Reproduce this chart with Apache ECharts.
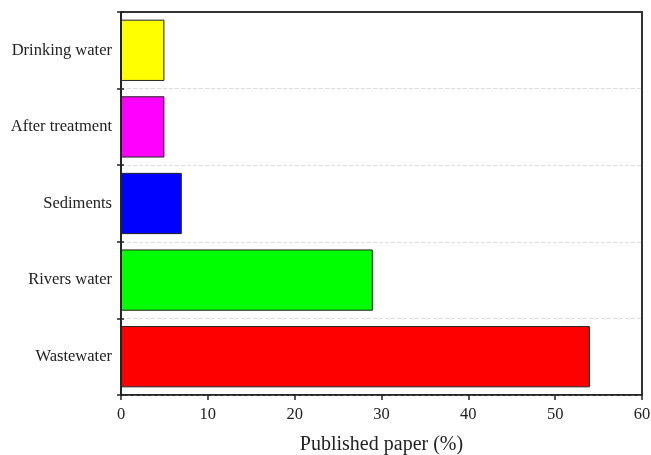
<!DOCTYPE html>
<html><head><meta charset="utf-8">
<script src="https://cdn.jsdelivr.net/npm/echarts@6/dist/echarts.min.js"></script>
<style>html,body{margin:0;padding:0;background:#fff}#c{width:651px;height:455px}</style>
</head><body><div id="c"></div>
<script>
const categories = ['Wastewater', 'Rivers water', 'Sediments', 'After treatment', 'Drinking water'];
const values = [54, 29, 7, 5, 5];
const barColors = ['#ff0000', '#00ff00', '#0000ff', '#ff00ff', '#ffff00'];
const xTicks = [0, 10, 20, 30, 40, 50, 60];

const chart = echarts.init(document.getElementById('c'));
const font = 'Liberation Serif, Times New Roman, serif';
const lineCol = '#222';
chart.setOption({
  backgroundColor: '#fff',
  animation: false,
  grid: {left: 121, right: 9, top: 12, bottom: 60, outerBoundsMode: 'none', containLabel: false,
         show: true, borderColor: '#333', borderWidth: 2, backgroundColor: 'transparent'},
  xAxis: [{
    type: 'value', min: xTicks[0], max: xTicks[xTicks.length - 1], interval: 10,
    name: 'Published paper (%)', nameLocation: 'middle', nameGap: 40,
    nameTextStyle: {fontFamily: font, fontSize: 20, color: lineCol},
    axisLine: {show: true, lineStyle: {color: lineCol, width: 1.5}},
    axisTick: {show: true, length: 5, lineStyle: {color: lineCol, width: 1.5}},
    axisLabel: {fontFamily: font, fontSize: 16.5, color: lineCol, margin: 11},
    splitLine: {show: false}
  }, {
    type: 'value', position: 'top', min: 0, max: 60, interval: 10,
    axisLine: {show: true, lineStyle: {color: '#333', width: 2}},
    axisTick: {show: false}, axisLabel: {show: false}, splitLine: {show: false}
  }],
  yAxis: [{
    type: 'category', data: categories, position: 'left',
    axisLine: {show: true, lineStyle: {color: lineCol, width: 1.5}},
    axisTick: {show: true, length: 4, lineStyle: {color: lineCol, width: 1.5}},
    axisLabel: {fontFamily: font, fontSize: 16.5, color: lineCol, margin: 9},
    splitLine: {show: true, lineStyle: {color: '#ddd', type: 'dashed', width: 1}}
  }, {
    type: 'category', data: categories, position: 'left', offset: 0,
    axisLine: {show: false},
    axisTick: {show: true, inside: true, length: 3, lineStyle: {color: lineCol, width: 1.5}},
    axisLabel: {show: false}, splitLine: {show: false}
  }],
  series: [{
    type: 'bar', barCategoryGap: '20%',
    data: values.map((v, i) => ({value: v, itemStyle: {color: barColors[i]}})),
    itemStyle: {borderColor: lineCol, borderWidth: 1}
  }]
});
</script></body></html>
